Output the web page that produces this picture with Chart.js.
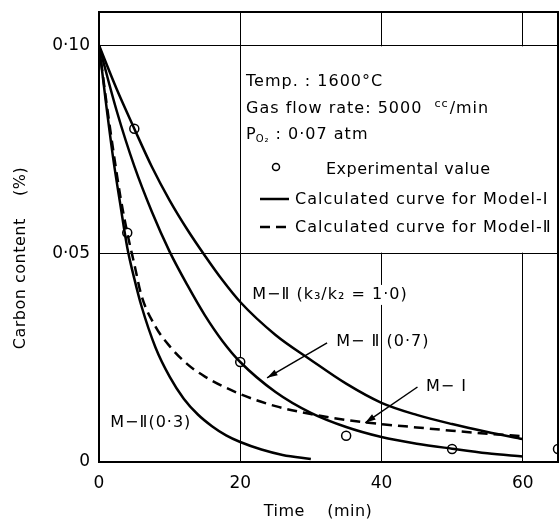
<!DOCTYPE html>
<html>
<head>
<meta charset="utf-8">
<script src="https://cdn.jsdelivr.net/npm/chart.js@4"></script>
<style>
  html, body { margin: 0; padding: 0; background: #fff; }
  #wrap { width: 559px; height: 523px; }
</style>
</head>
<body>
<div id="wrap"><canvas id="carbonChart" width="559" height="523"></canvas></div>
<script>
// values (time in min, carbon in %)
const tCurve = [0, 2.5, 5, 7.5, 10, 12.5, 15, 17.5, 20, 25, 30, 35, 40, 45, 50, 55, 60];
const curveK10 = [0.100, 0.0895, 0.080, 0.0708, 0.0628, 0.0558, 0.0495, 0.0436, 0.0384, 0.0305, 0.0245, 0.0188, 0.0142, 0.0113, 0.0091, 0.0072, 0.0055];
const curveK07 = [0.100, 0.0843, 0.071, 0.060, 0.0505, 0.0425, 0.0352, 0.029, 0.024, 0.0168, 0.0118, 0.0084, 0.006, 0.0044, 0.0032, 0.0021, 0.0013];

const tSteep = [0, 1, 2, 3, 4, 5, 6, 8, 10, 12, 14, 16, 18, 20, 23, 26, 30];
const curveK03 = [0.100, 0.086, 0.073, 0.062, 0.0515, 0.044, 0.0375, 0.0275, 0.0205, 0.0152, 0.0114, 0.0086, 0.0064, 0.0048, 0.003, 0.0017, 0.0007];

const tModel1 = [0, 1, 2, 3, 4, 5, 6, 8, 10, 12.5, 15, 20, 25, 30, 35, 40, 45, 50, 55, 60];
const curveModel1 = [0.100, 0.087, 0.075, 0.064, 0.055, 0.0475, 0.040, 0.0325, 0.0278, 0.0235, 0.0205, 0.0163, 0.0134, 0.0115, 0.0101, 0.0091, 0.0083, 0.0075, 0.0068, 0.0062];

const expTime = [4, 5, 20, 35, 50, 65];
const expCarbon = [0.055, 0.080, 0.024, 0.0063, 0.0031, 0.0031];

const xTicks = [0, 20, 40, 60];
const yTicks = [0, 0.05, 0.10];

const FONT = "'DejaVu Sans', 'Noto Sans', sans-serif";

function pts(xs, ys) {
    return xs.map((x, i) => ({ x: x, y: ys[i] }));
}

function curve(xs, ys, dash) {
    return {
        data: pts(xs, ys),
        borderColor: '#000',
        borderWidth: 2.5,
        borderDash: dash || [],
        pointRadius: 0,
        fill: false,
        tension: 0.4,
        cubicInterpolationMode: 'monotone'
    };
}

const extras = {
    id: 'extras',
    beforeDatasetsDraw(chart) {
        const { ctx, chartArea, scales: { x, y } } = chart;
        // legend panel hides the grid inside it
        const left = x.getPixelForValue(20) + 1;
        const top = y.getPixelForValue(0.10) + 1;
        const bottom = y.getPixelForValue(0.05) - 1;
        ctx.save();
        ctx.fillStyle = '#fff';
        ctx.fillRect(left, top, chartArea.right - left - 1, bottom - top);
        ctx.restore();
    },
    afterDraw(chart) {
        const { ctx, chartArea, scales: { x, y } } = chart;
        ctx.save();

        // frame
        ctx.strokeStyle = '#000';
        ctx.lineWidth = 2;
        ctx.strokeRect(chartArea.left, chartArea.top, chartArea.right - chartArea.left, chartArea.bottom - chartArea.top);

        ctx.fillStyle = '#000';
        ctx.textBaseline = 'middle';
        ctx.textAlign = 'left';
        ctx.letterSpacing = '1px';

        // legend text
        const lx = 246;
        ctx.font = '16px ' + FONT;
        ctx.fillText('Temp. : 1600°C', lx, 82);
        ctx.fillText('Gas flow rate: 5000', lx, 109);
        let w = ctx.measureText('Gas flow rate: 5000  ').width;
        ctx.font = '11px ' + FONT;
        ctx.fillText('cc', lx + w, 104);
        let w2 = ctx.measureText('cc').width;
        ctx.font = '16px ' + FONT;
        ctx.fillText('/min', lx + w + w2 + 1, 109);

        ctx.fillText('P', lx, 135);
        w = ctx.measureText('P').width;
        ctx.font = '10px ' + FONT;
        ctx.fillText('O₂', lx + w - 1, 139);
        w2 = ctx.measureText('O₂').width;
        ctx.font = '16px ' + FONT;
        ctx.fillText(' : 0·07 atm', lx + w + w2 - 1, 135);

        ctx.lineWidth = 1.5;
        ctx.beginPath();
        ctx.arc(276, 167, 3.5, 0, Math.PI * 2);
        ctx.stroke();
        ctx.letterSpacing = '0.5px';
        ctx.fillText('Experimental value', 326, 170);
        ctx.letterSpacing = '1px';

        ctx.lineWidth = 2.5;
        ctx.beginPath();
        ctx.moveTo(260, 199);
        ctx.lineTo(289, 199);
        ctx.stroke();
        ctx.fillText('Calculated curve for Model-Ⅰ', 295, 200);

        ctx.setLineDash([10, 6]);
        ctx.beginPath();
        ctx.moveTo(260, 227);
        ctx.lineTo(290, 227);
        ctx.stroke();
        ctx.setLineDash([]);
        ctx.fillText('Calculated curve for Model-Ⅱ', 295, 228);

        // curve labels
        ctx.font = '16px ' + FONT;
        const lab1 = 'M−Ⅱ (k₃/k₂ = 1·0)';
        const p1x = x.getPixelForValue(21.7), p1y = y.getPixelForValue(0.0401);
        ctx.fillStyle = '#fff';
        ctx.fillRect(p1x - 2, p1y - 10, ctx.measureText(lab1).width + 4, 20);
        ctx.fillStyle = '#000';
        ctx.fillText(lab1, p1x, p1y);
        ctx.fillText('M− Ⅱ (0·7)', x.getPixelForValue(33.6), y.getPixelForValue(0.0288));
        ctx.fillText('M− Ⅰ', x.getPixelForValue(46.3), y.getPixelForValue(0.018));
        ctx.fillText('M−Ⅱ(0·3)', x.getPixelForValue(1.6), y.getPixelForValue(0.0094));

        // arrows
        function arrow(x0, y0, x1, y1) {
            const ax = x.getPixelForValue(x0), ay = y.getPixelForValue(y0);
            const bx = x.getPixelForValue(x1), by = y.getPixelForValue(y1);
            ctx.lineWidth = 1.5;
            ctx.beginPath();
            ctx.moveTo(ax, ay);
            ctx.lineTo(bx, by);
            ctx.stroke();
            const a = Math.atan2(by - ay, bx - ax);
            ctx.beginPath();
            ctx.moveTo(bx, by);
            ctx.lineTo(bx - 11 * Math.cos(a - 0.3), by - 11 * Math.sin(a - 0.3));
            ctx.lineTo(bx - 11 * Math.cos(a + 0.3), by - 11 * Math.sin(a + 0.3));
            ctx.closePath();
            ctx.fill();
        }
        arrow(32.3, 0.0286, 23.8, 0.0202);
        arrow(45.1, 0.018, 37.7, 0.0094);

        // axis titles
        ctx.letterSpacing = '0.5px';
        ctx.font = '16px ' + FONT;
        ctx.textAlign = 'center';
        ctx.fillText('Time    (min)', 318, 512);
        ctx.translate(21, 258);
        ctx.rotate(-Math.PI / 2);
        ctx.fillText('Carbon content    (%)', 0, 0);

        ctx.restore();
    }
};

const chart = new Chart(document.getElementById('carbonChart').getContext('2d'), {
    type: 'line',
    data: {
        datasets: [
            curve(tCurve, curveK10),
            curve(tCurve, curveK07),
            curve(tSteep, curveK03),
            curve(tModel1, curveModel1, [10, 6]),
            {
                type: 'scatter',
                data: pts(expTime, expCarbon),
                showLine: false,
                pointStyle: 'circle',
                pointRadius: 4.5,
                pointBackgroundColor: '#fff',
                pointBorderColor: '#000',
                pointBorderWidth: 1.5,
                clip: false
            }
        ]
    },
    options: {
        responsive: false,
        animation: false,
        devicePixelRatio: 1,
        layout: { autoPadding: false, padding: { top: 12, right: 1, left: 0, bottom: 0 } },
        plugins: { legend: { display: false }, tooltip: { enabled: false } },
        scales: {
            x: {
                type: 'linear',
                min: 0,
                max: 65,
                afterBuildTicks: s => { s.ticks = xTicks.map(v => ({ value: v })); },
                afterFit: s => { s.height = 61; s.paddingRight = 0; s.paddingLeft = 0; },
                ticks: { color: '#000', font: { size: 17, family: FONT }, padding: 11, maxRotation: 0 },
                grid: { color: '#000', lineWidth: 1, drawTicks: false },
                border: { color: '#000', width: 2 }
            },
            y: {
                type: 'linear',
                min: 0,
                max: 0.108,
                afterBuildTicks: s => { s.ticks = yTicks.map(v => ({ value: v })); },
                afterFit: s => { s.width = 99; s.paddingTop = 0; s.paddingBottom = 0; },
                ticks: {
                    color: '#000',
                    font: { size: 17, family: FONT },
                    padding: 9,
                    callback: v => v === 0 ? '0' : v.toFixed(2).replace('.', '·')
                },
                grid: { color: '#000', lineWidth: 1, drawTicks: false },
                border: { color: '#000', width: 2 }
            }
        }
    },
    plugins: [extras]
});
</script>
</body>
</html>
